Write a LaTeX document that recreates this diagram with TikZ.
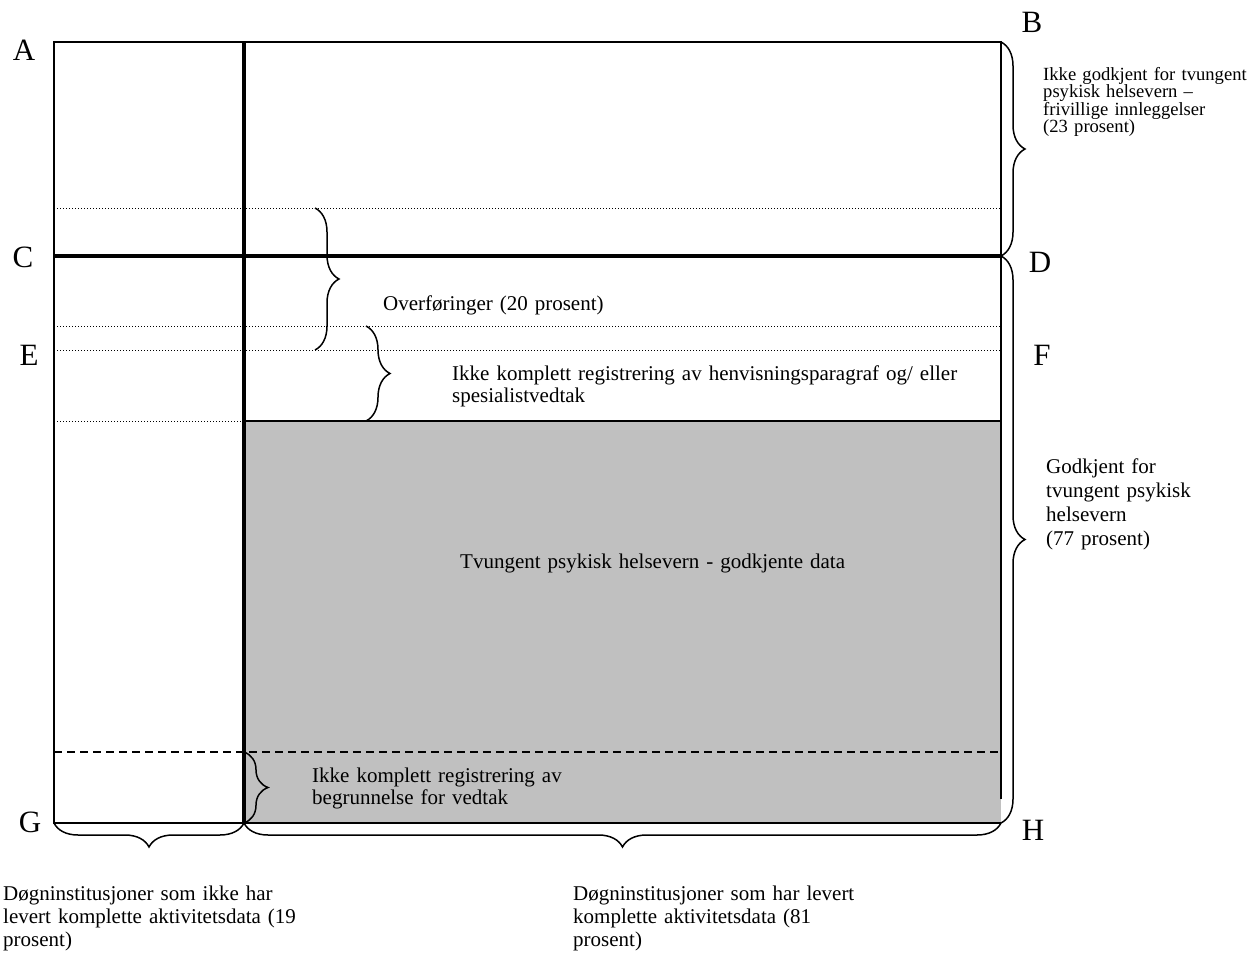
\documentclass[tikz,border=0pt]{standalone}
\usepackage{fontspec}
\setmainfont{Liberation Serif}
\usetikzlibrary{decorations.pathreplacing}
\definecolor{boxgrey}{RGB}{192,192,192}

\begin{document}
\begin{tikzpicture}[
  x=1pt, y=-1pt,
  border/.style = {draw=black, line width=1.6pt},
  heavy/.style = {draw=black, line width=3.6pt},
  dotline/.style = {draw=black, line width=1pt, dash pattern=on 1pt off 2pt},
  dashline/.style = {draw=black, line width=1.6pt, dash pattern=on 8pt off 5pt},
  curly/.style = {draw=black, line width=1.5pt, decorate, decoration={brace, amplitude=24pt}},
  corner/.style = {inner sep=0pt, font=\fontsize{31}{31}\selectfont},
  note/.style = {inner sep=0pt, anchor=base west, align=left, text width=#1, font=\fontsize{21}{22}\selectfont}
]
\useasboundingbox (0,0) rectangle (1247,953);

\coordinate (A) at (54,42);
\coordinate (B) at (1001,42);
\coordinate (C) at (54,256);
\coordinate (D) at (1001,256);
\coordinate (E) at (54,350);
\coordinate (F) at (1001,350);
\coordinate (G) at (54,823);
\coordinate (H) at (1001,823);
\coordinate (splitT) at (244,42);
\coordinate (splitB) at (244,823);
\coordinate (ovTop) at (315,208);
\coordinate (ovBot) at (315,350);
\coordinate (henTop) at (366,326);
\coordinate (henBot) at (366,421);
\coordinate (begTop) at (244,752);

% grey block of approved data
\fill[boxgrey] (244,421) rectangle (H);

% dotted and dashed separators
\draw[dotline] (54,208) -- (1001,208);
\draw[dotline] (54,326) -- (1001,326);
\draw[dotline] (E) -- (F);
\draw[dotline] (54,421) -- (244,421);
\draw[border] (244,421) -- (1001,421);
\draw[dashline] (54,752) -- (1001,752);

% frame and heavy lines
\draw[border] (1001,799) -- (B) -- (A) -- (G) -- (H);
\draw[heavy] (C) -- (D);
\draw[heavy] (splitT) -- (splitB);

% braces
\draw[curly] (B) -- (D);
\draw[curly] (D) -- (H);
\draw[curly] (ovTop) -- (ovBot);
\draw[curly] (henTop) -- (henBot);
\draw[curly] (begTop) -- (splitB);
\draw[curly] (splitB) -- (G);
\draw[curly] (H) -- (splitB);

% corner letters
\node[corner] (labA) at (24,50) {A};
\node[corner] (labB) at (1032,22) {B};
\node[corner] (labC) at (23,257) {C};
\node[corner] (labD) at (1040,262) {D};
\node[corner] (labE) at (29,355) {E};
\node[corner] (labF) at (1042,355) {F};
\node[corner] (labG) at (30,822) {G};
\node[corner] (labH) at (1033,830) {H};

% texts
\node[note=240pt, font=\fontsize{18.6}{17.5}\selectfont] (frivillig) at (1043,80)
  {Ikke godkjent for tvungent\\psykisk helsevern –\\frivillige innleggelser\\(23 prosent)};
\node[note=260pt] (overf) at (383,310) {Overføringer (20 prosent)};
\node[note=560pt] (henvis) at (452,380)
  {Ikke komplett registrering av henvisningsparagraf og/ eller\\spesialistvedtak};
\node[note=420pt] (godkjData) at (460,568) {Tvungent psykisk helsevern - godkjente data};
\node[note=280pt] (begrunn) at (312,782)
  {Ikke komplett registrering av\\begrunnelse for vedtak};
\node[note=200pt, font=\fontsize{21}{24}\selectfont] (godkjent) at (1046,473)
  {Godkjent for\\tvungent psykisk\\helsevern\\(77 prosent)};
\node[note=320pt, font=\fontsize{21}{23}\selectfont] (ikkeLevert) at (3,900)
  {Døgninstitusjoner som ikke har\\levert komplette aktivitetsdata (19\\prosent)};
\node[note=320pt, font=\fontsize{21}{23}\selectfont] (levert) at (573,900)
  {Døgninstitusjoner som har levert\\komplette aktivitetsdata (81\\prosent)};
\end{tikzpicture}
\end{document}
